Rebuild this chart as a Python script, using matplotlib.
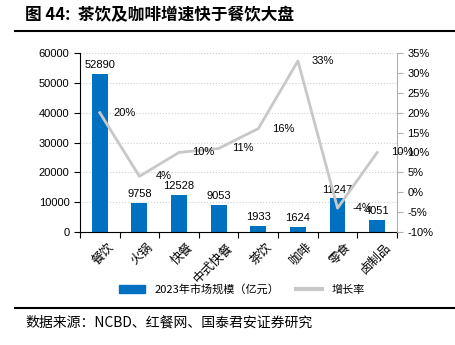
import matplotlib
matplotlib.use('Agg')
import matplotlib.pyplot as plt
import numpy as np
from matplotlib.lines import Line2D
from matplotlib.patches import Patch

plt.rcParams['font.family'] = ['Liberation Sans', 'Noto Sans CJK SC', 'DejaVu Sans']

# --- Dados ---
categories = ['餐饮', '火锅', '快餐', '中式快餐', '茶饮', '咖啡', '零食', '卤制品']
market_size = [52890, 9758, 12528, 9053, 1933, 1624, 11247, 4051]
growth_pct = [20, 4, 10, 11, 16, 33, -4, 10]

BAR_COLOR = '#0070C0'
LINE_COLOR = '#C8C8C8'
CJK = ['Noto Sans CJK SC', 'DejaVu Sans']

fig = plt.figure(figsize=(4.56, 3.45), dpi=100)
ax = fig.add_axes([0.1754, 0.3275, 0.6952, 0.5189])
ax2 = ax.twinx()

x = np.arange(len(categories))
ax.bar(x, market_size, width=0.4, color=BAR_COLOR, zorder=2)
for xi, v in zip(x, market_size):
    ax.text(xi, v + 1300, str(v), ha='center', va='bottom', fontsize=8)

ax.set_ylim(0, 60000)
ax.set_yticks(range(0, 60001, 10000))
ax.set_xlim(-0.5, len(categories) - 0.5)
ax.grid(axis='y', color='#D0D0D0', linestyle=':', linewidth=0.8, zorder=0)
ax.set_axisbelow(True)

# ticks do eixo x entre as categorias
ax.set_xticks(np.arange(-0.5, len(categories), 1.0))
ax.set_xticklabels([])
ax.tick_params(axis='x', length=4, width=0.8, direction='out')
for xi, name in zip(x, categories):
    ax.text(xi + 0.18, -2800, name, rotation=45, ha='right', va='top',
            fontsize=9, family=CJK, rotation_mode='anchor')
ax.tick_params(axis='y', labelsize=8, length=4, width=0.8)

ax2.plot(x, growth_pct, color=LINE_COLOR, linewidth=2, zorder=3)
for xi, g in zip(x, growth_pct):
    ax2.text(xi + 0.62, g, f'{g}%', ha='center', va='center', fontsize=8)
ax2.set_ylim(-10, 35)
ax2.set_yticks(range(-10, 36, 5))
ax2.set_yticklabels([f'{t}%' for t in range(-10, 36, 5)])
ax2.tick_params(axis='y', labelsize=8, length=4, width=0.8, color='#B0B0B0')

for a in (ax, ax2):
    a.spines['top'].set_visible(False)
ax.spines['right'].set_visible(False)
ax2.spines['left'].set_visible(False)
ax2.spines['bottom'].set_visible(False)
ax2.spines['right'].set_color('#B0B0B0')
ax.spines['left'].set_linewidth(0.8)
ax.spines['bottom'].set_linewidth(0.8)

handles = [Patch(color=BAR_COLOR), Line2D([0], [0], color=LINE_COLOR, linewidth=3)]
fig.legend(handles, ['2023年市场规模（亿元）', '增长率'], loc='center',
           bbox_to_anchor=(0.53, 0.16), ncol=2, frameon=False,
           prop={'family': CJK, 'size': 8}, handlelength=2.4, columnspacing=1.5)

# título e fonte
fig.text(0.055, 0.955, '图 44:  茶饮及咖啡增速快于餐饮大盘', fontsize=12,
         fontweight='bold', family=CJK, va='center')
fig.add_artist(Line2D([0.033, 1.0], [0.91, 0.91], color='black', linewidth=1.5))
fig.add_artist(Line2D([0.033, 1.0], [0.107, 0.107], color='black', linewidth=1.5))
fig.text(0.055, 0.064, '数据来源：NCBD、红餐网、国泰君安证券研究', fontsize=10,
         family=CJK, va='center')

fig.savefig('out.png', dpi=100)
